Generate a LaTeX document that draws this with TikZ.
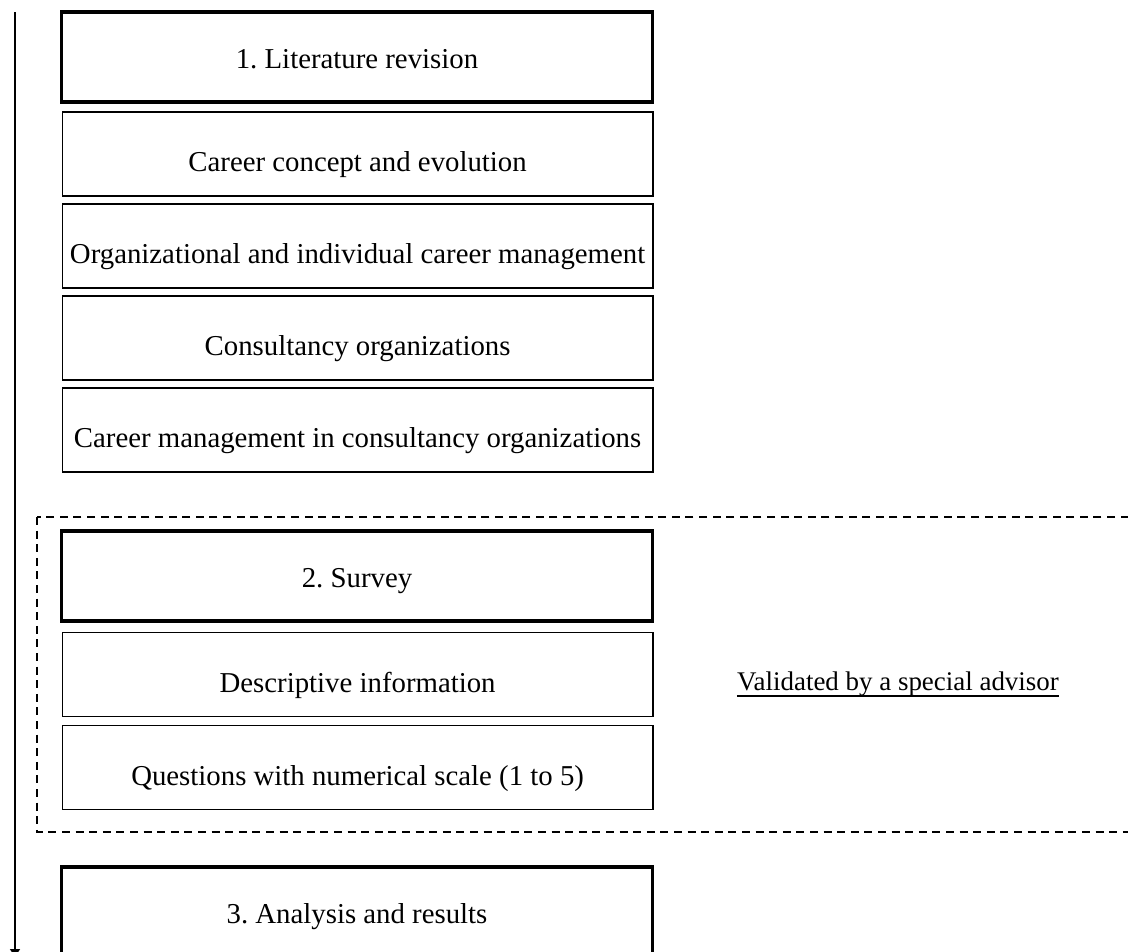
\documentclass[tikz,border=0pt]{standalone}
\usepackage{fontspec}
\setmainfont{Liberation Serif}
\usetikzlibrary{arrows.meta}
\frenchspacing
\begin{document}
\begin{tikzpicture}[x=0.75pt,y=-0.75pt,
  every node/.style={font=\fontsize{21.6}{26}\selectfont, inner sep=0pt},
  % text sits a little below the middle of each box
  headbox/.style={draw, line width=2.6pt, minimum width=443.4pt, minimum height=67.8pt,
    text height=17.3pt, text depth=0pt},
  itembox/.style={draw, line width=1.1pt, minimum width=443pt, minimum height=63pt,
    text height=26.3pt, text depth=0pt},
  phase/.style={draw, line width=1.1pt, dash pattern=on 6pt off 4.2pt},
  timeline/.style={line width=1.1pt, -{Triangle[width=7.5pt,length=6pt]}},
  note/.style={font=\fontsize{20.2}{24}\selectfont},
  underrule/.style={line width=1.1pt}
]
\useasboundingbox (0,0) rectangle (1128,951);
\clip (0,0) rectangle (1128,951);

% time axis on the left
\coordinate (tstart) at (15,12);
\coordinate (tend) at (15,957);
\draw[timeline] (tstart) -- (tend);

% phase 1
\node[headbox] (lit) at (357,57) {1. Literature revision};
\node[itembox] (career) at (357.6,154) {Career concept and evolution};
\node[itembox] (mgmt) at (357.6,246) {Organizational and individual career management};
\node[itembox] (consult) at (357.6,338) {Consultancy organizations};
\node[itembox] (cmc) at (357.6,430) {Career management in consultancy organizations};

% phase 2, inside the dashed frame
\draw[phase] (37,517) rectangle (1145,832);
\node[headbox] (survey) at (357,576) {2. Survey};
\node[itembox] (desc) at (357.6,674.5) {Descriptive information};
\node[itembox] (quest) at (357.6,767.5) {Questions with numerical scale (1 to 5)};
\node[note, anchor=base] (advisor) at (898,690) {Validated by a special advisor};
\draw[underrule] ([yshift=-4.5pt]advisor.base west) -- ([yshift=-4.5pt]advisor.base east);

% phase 3
\node[headbox] (analysis) at (357,912) {3. Analysis and results};
\end{tikzpicture}
\end{document}
